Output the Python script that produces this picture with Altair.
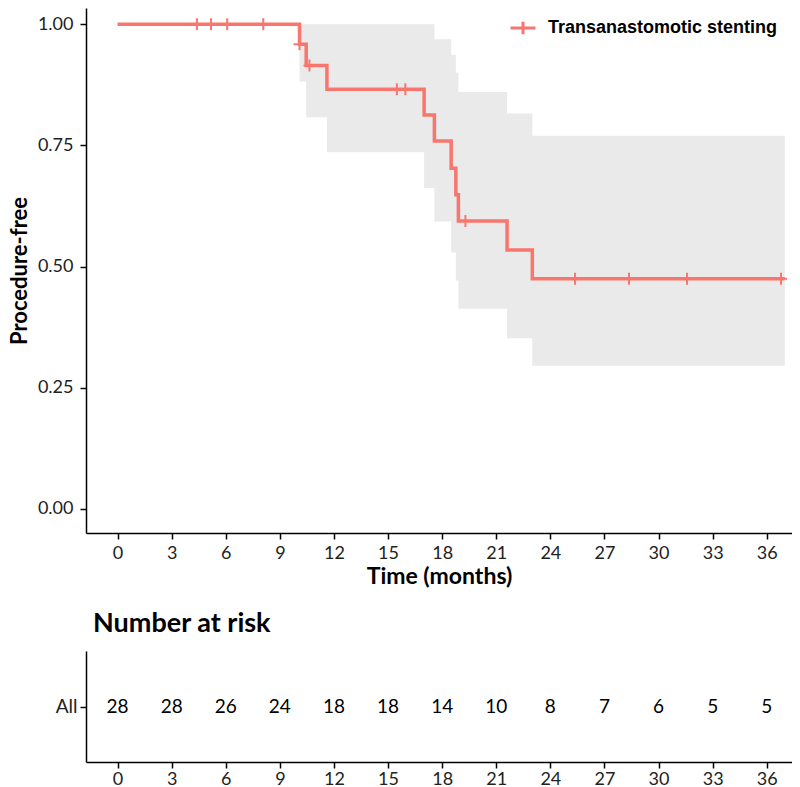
import altair as alt
import pandas as pd

# ---- data ----
step_time = [0, 10.09, 10.46, 11.61, 17.0, 17.57, 18.5, 18.76, 18.9, 21.6, 23.0, 37.0]
step_surv = [1.0, 0.959, 0.915, 0.866, 0.813, 0.759, 0.703, 0.648, 0.594, 0.534, 0.475, 0.475]

band_time = [10.09, 10.46, 11.61, 17.0, 17.57, 18.5, 18.76, 18.9, 21.6, 23.0, 37.0]
band_lower = [0.882, 0.808, 0.736, 0.662, 0.593, 0.529, 0.471, 0.413, 0.352, 0.295, 0.295]
band_upper = [1.0, 1.0, 1.0, 1.0, 0.969, 0.937, 0.900, 0.860, 0.816, 0.770, 0.770]

censor_time = [4.40, 5.18, 6.08, 8.08, 10.09, 10.64, 15.49, 15.96, 19.29, 25.37, 28.36, 31.58, 36.79]
censor_surv = [1.0, 1.0, 1.0, 1.0, 0.959, 0.915, 0.866, 0.866, 0.594, 0.475, 0.475, 0.475, 0.475]

risk_time = [0, 3, 6, 9, 12, 15, 18, 21, 24, 27, 30, 33, 36]
risk_n = [28, 28, 26, 24, 18, 18, 14, 10, 8, 7, 6, 5, 5]

group_name = "Transanastomotic stenting"
strata_name = "All"
x_ticks = [0, 3, 6, 9, 12, 15, 18, 21, 24, 27, 30, 33, 36]
y_ticks = [0, 0.25, 0.5, 0.75, 1.0]

# ---- tables ----
df_step = pd.DataFrame({"time": step_time, "surv": step_surv, "group": group_name})
df_band = pd.DataFrame({"time": band_time, "lower": band_lower, "upper": band_upper})
df_cens = pd.DataFrame({"time": censor_time, "surv": censor_surv})
df_risk = pd.DataFrame({"time": risk_time, "n": risk_n, "strata": strata_name})

FONT = "Lato"
RED = "#F8766D"
X_DOMAIN = [-1.75, 37.4]
PLOT_W = 706

x_scale = alt.Scale(domain=X_DOMAIN, nice=False, zero=False)
y_scale = alt.Scale(domain=[-0.05, 1.0336], nice=False, zero=False)

x_axis = alt.Axis(values=x_ticks, title="Time (months)", labelFlush=False,
                  format="d", titlePadding=3, titleFontSize=23)
y_axis = alt.Axis(values=y_ticks, title="Procedure-free", format=".2f",
                  labelFlush=False, titlePadding=6, labelPadding=7, titleFontSize=22)

band = alt.Chart(df_band).mark_area(interpolate="step-after", color="#EAEAEA").encode(
    x=alt.X("time:Q", scale=x_scale, axis=x_axis),
    y=alt.Y("lower:Q", scale=y_scale, axis=y_axis),
    y2="upper:Q",
)

line = alt.Chart(df_step).mark_line(interpolate="step-after", strokeWidth=3.5).encode(
    x=alt.X("time:Q", scale=x_scale),
    y=alt.Y("surv:Q", scale=y_scale),
    color=alt.Color(
        "group:N",
        scale=alt.Scale(range=[RED]),
        legend=alt.Legend(
            title=None, orient="none", legendX=423, legendY=6,
            symbolType="M-1,0H1M0,-0.5V0.5", symbolSize=625, symbolStrokeWidth=3,
            labelFont="Liberation Sans", labelFontWeight="bold", labelFontSize=18,
            labelColor="black", labelOffset=11, padding=0, labelLimit=0,
        ),
    ),
)

points = alt.Chart(df_cens).mark_point(
    shape="M0,-1V1M-1,0H1", size=144, filled=False, strokeWidth=2, color=RED, opacity=1
).encode(
    x=alt.X("time:Q", scale=x_scale),
    y=alt.Y("surv:Q", scale=y_scale),
)

main = alt.layer(band, line, points).properties(width=PLOT_W, height=525)

risk = alt.Chart(df_risk).mark_text(font=FONT, fontSize=19, color="black").encode(
    x=alt.X("time:Q", scale=alt.Scale(domain=X_DOMAIN, nice=False, zero=False),
            axis=alt.Axis(values=x_ticks, title=None, labelFlush=False, format="d",
                          labelPadding=2)),
    y=alt.Y("strata:N", axis=alt.Axis(title=None, labelFontSize=19, labelPadding=3)),
    text="n:Q",
).properties(
    width=PLOT_W, height=111,
    title=alt.TitleParams("Number at risk", anchor="start", frame="group", font=FONT,
                          fontSize=27, fontWeight="bold", dx=7, offset=-8,
                          color="black", baseline="alphabetic"),
)

chart = alt.vconcat(main, risk, spacing=22).properties(
    padding={"left": 0, "top": 0, "right": 0, "bottom": 0}
).configure_view(
    stroke=None
).configure_axis(
    grid=False, domainColor="black", domainWidth=1.5, tickColor="black", tickWidth=1.5,
    tickSize=6, labelFont=FONT, labelFontSize=18, labelColor="#222222",
    titleFont=FONT, titleFontWeight="bold", titleColor="black",
    labelPadding=5,
)

chart.save("out.html", embed_options={"renderer": "svg", "actions": False})
